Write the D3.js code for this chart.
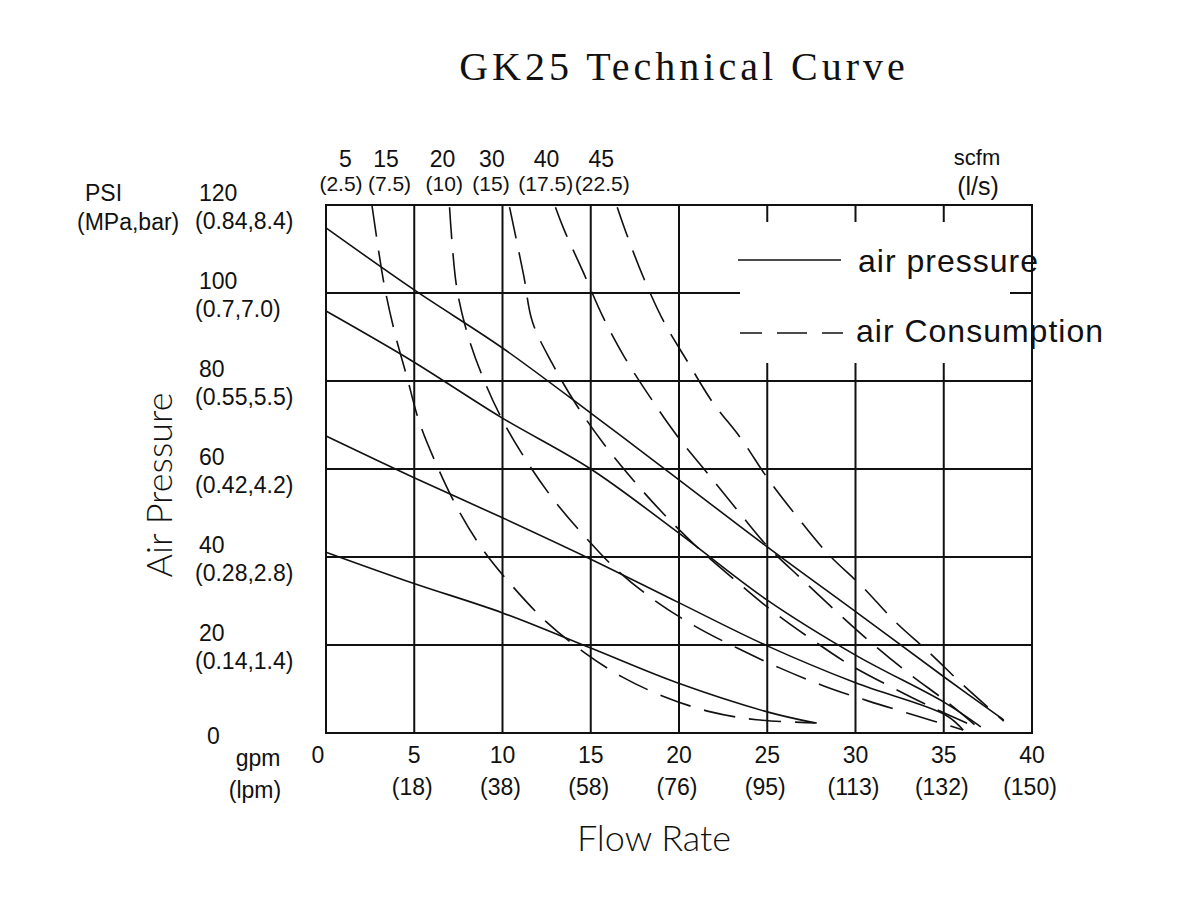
<!DOCTYPE html>
<html>
<head>
<meta charset="utf-8">
<script src="https://cdn.jsdelivr.net/npm/d3@7"></script>
<style>
  body { margin: 0; background: #fff; }
  text { font-family: "Liberation Sans", Arial, sans-serif; fill: #111; }
</style>
</head>
<body>
<div id="chart"></div>
<script>
// axis ticks
const gpmTicks = [0, 5, 10, 15, 20, 25, 30, 35, 40];
const lpmLabels = ["", "(18)", "(38)", "(58)", "(76)", "(95)", "(113)", "(132)", "(150)"];
const psiTicks = [0, 20, 40, 60, 80, 100, 120];
const mpaLabels = ["", "(0.14,1.4)", "(0.28,2.8)", "(0.42,4.2)", "(0.55,5.5)", "(0.7,7.0)", "(0.84,8.4)"];

// air consumption labels along the top (scfm / l/s), placed at these gpm values
const scfmLabels = ["5", "15", "20", "30", "40", "45"];
const scfmLabelGpm = [1.1, 3.4, 6.6, 9.4, 12.5, 15.6];
const lsLabels = ["(2.5)", "(7.5)", "(10)", "(15)", "(17.5)", "(22.5)"];
const lsLabelGpm = [0.85, 3.6, 6.7, 9.35, 12.45, 15.65];

// air pressure curves: [gpm, psi]
const pressure1 = [[0, 114.8], [5, 100.7], [10, 87.5], [15, 72.7], [18.9, 60.9], [25, 42.3], [30.1, 27.3], [35.1, 12.5], [38.4, 3.0]];
const pressure2 = [[0, 95.9], [4.9, 84.5], [9.9, 71.8], [15, 60], [19.9, 45.7], [25, 30.2], [30, 17.7], [35.1, 6.8], [37.1, 1.4]];
const pressure3 = [[0, 67.5], [4.9, 58.2], [10, 48.9], [15, 39.5], [19.9, 29.8], [25, 19.8], [30, 11.4], [35.1, 4.1], [36.1, 0.7]];
const pressure4 = [[0, 41.1], [4.9, 34.1], [10, 27.3], [15, 19.3], [19.9, 11.4], [25, 4.8], [27.7, 2.3]];

// air consumption curves: [gpm, psi]
const consumption1 = [[2.6, 120], [3.3, 101.8], [3.9, 90.9], [4.6, 80.7], [5.3, 70.5], [6.35, 60.2], [7.5, 50.7], [8.9, 41.6], [10.6, 33.2], [12.5, 25.2], [14.6, 18.4], [16.8, 12.7], [19.2, 8.2], [21.8, 4.8], [24.4, 3.0], [27.8, 2.3]];
const consumption2 = [[7.0, 119.5], [7.4, 101.4], [8.0, 90.9], [8.9, 80.7], [10.0, 71.1], [11.4, 61.6], [12.9, 53], [14.7, 44.5], [16.5, 37], [18.6, 30.2], [20.9, 24.3], [23.3, 19.3], [25.7, 14.8], [28.2, 10.7], [30.7, 7.3], [33.3, 4.1], [36.1, 0.7]];
const consumption3 = [[10.4, 119.5], [11.2, 104], [11.7, 93.4], [12.8, 84.1], [14.2, 74.5], [15.7, 65.9], [17.4, 57.5], [19.2, 49.5], [21.2, 41.6], [23.1, 35], [25.2, 28], [27.4, 21.6], [29.6, 15.7], [32.0, 10.5], [34.4, 5.7], [36.8, 1.4]];
const consumption4 = [[13.0, 119.5], [13.5, 114.3], [14.6, 104.5], [15.7, 94.5], [16.9, 85.5], [18.4, 76.1], [19.9, 67.5], [21.6, 59.1], [23.3, 50.7], [25.0, 42.5], [27.0, 34.8], [29.0, 27.3], [30.9, 20.5], [33.0, 13.6], [35.2, 7.0], [36.9, 1.4]];
const consumption5 = [[16.5, 119.5], [17.05, 113.2], [18.0, 103.4], [19.15, 93.4], [20.5, 84.3], [21.9, 75.2], [23.5, 67.0], [25.0, 58.0], [26.7, 49.1], [28.4, 40.9], [30.4, 33.2], [32.2, 25.5], [34.2, 18.2], [36.1, 10.9], [38.4, 2.7]];

const pressureCurves = [pressure1, pressure2, pressure3, pressure4];
const consumptionCurves = [consumption1, consumption2, consumption3, consumption4, consumption5];

const width = 1200, height = 900;
const x = d3.scaleLinear().domain([0, 40]).range([326, 1032]);
const y = d3.scaleLinear().domain([0, 120]).range([733, 205]);

const svg = d3.select("#chart").append("svg")
  .attr("width", width)
  .attr("height", height);

// title
svg.append("text")
  .attr("x", 684).attr("y", 80)
  .attr("text-anchor", "middle")
  .style("font-family", "'Liberation Serif', 'DejaVu Serif', serif")
  .style("font-size", "40px")
  .style("letter-spacing", "4px")
  .text("GK25 Technical Curve");

// grid
const grid = svg.append("g").attr("stroke", "#111").attr("stroke-width", 2);
grid.selectAll(".vline")
  .data(gpmTicks)
  .enter().append("line")
  .attr("x1", d => x(d)).attr("x2", d => x(d))
  .attr("y1", y(120)).attr("y2", y(0));
grid.selectAll(".hline")
  .data(psiTicks)
  .enter().append("line")
  .attr("x1", x(0)).attr("x2", x(40))
  .attr("y1", d => y(d)).attr("y2", d => y(d));

// legend area blanks out the grid
svg.append("rect")
  .attr("x", 740).attr("y", 222)
  .attr("width", 270).attr("height", 141)
  .attr("fill", "#fff");

// curves
const line = d3.line()
  .x(d => x(d[0]))
  .y(d => y(d[1]))
  .curve(d3.curveCatmullRom.alpha(0.5));

svg.selectAll(".pressure")
  .data(pressureCurves)
  .enter().append("path")
  .attr("class", "pressure")
  .attr("d", line)
  .attr("fill", "none")
  .attr("stroke", "#111")
  .attr("stroke-width", 1.6);

svg.selectAll(".consumption")
  .data(consumptionCurves)
  .enter().append("path")
  .attr("class", "consumption")
  .attr("d", line)
  .attr("fill", "none")
  .attr("stroke", "#111")
  .attr("stroke-width", 1.6)
  .attr("stroke-dasharray", "32,14");

// border on top
svg.append("rect")
  .attr("x", x(0)).attr("y", y(120))
  .attr("width", x(40) - x(0)).attr("height", y(0) - y(120))
  .attr("fill", "none").attr("stroke", "#111").attr("stroke-width", 2);

// legend
svg.append("line")
  .attr("x1", 738).attr("x2", 841).attr("y1", 260).attr("y2", 260)
  .attr("stroke", "#111").attr("stroke-width", 1.6);
svg.append("line")
  .attr("x1", 740).attr("x2", 843).attr("y1", 333).attr("y2", 333)
  .attr("stroke", "#111").attr("stroke-width", 1.6)
  .attr("stroke-dasharray", "30,15").attr("stroke-dashoffset", 8);
svg.append("text").attr("x", 858).attr("y", 272)
  .style("font-size", "32px").style("letter-spacing", "1px").text("air  pressure");
svg.append("text").attr("x", 856).attr("y", 342)
  .style("font-size", "32px").style("letter-spacing", "1px").text("air  Consumption");

// left tick labels
const leftLabels = svg.append("g").style("font-size", "23px");
leftLabels.selectAll(".psi")
  .data(psiTicks)
  .enter().append("text")
  .attr("x", d => d === 0 ? 207 : 199)
  .attr("y", d => d === 0 ? y(d) + 11 : y(d) - 4)
  .text(d => d);
leftLabels.selectAll(".mpa")
  .data(psiTicks.filter(d => d > 0))
  .enter().append("text")
  .attr("x", 195)
  .attr("y", d => y(d) + 24)
  .text((d, i) => mpaLabels[i + 1]);
leftLabels.append("text").attr("x", 85).attr("y", 201).text("PSI");
leftLabels.append("text").attr("x", 77).attr("y", 230).text("(MPa,bar)");

// bottom tick labels
const bottomLabels = svg.append("g").style("font-size", "23px").attr("text-anchor", "middle");
bottomLabels.selectAll(".gpm")
  .data(gpmTicks)
  .enter().append("text")
  .attr("x", d => d === 0 ? x(d) - 8 : x(d))
  .attr("y", 763)
  .text(d => d);
bottomLabels.selectAll(".lpm")
  .data(gpmTicks.filter(d => d > 0))
  .enter().append("text")
  .attr("x", d => x(d) - 2)
  .attr("y", 795)
  .text((d, i) => lpmLabels[i + 1]);
bottomLabels.append("text").attr("x", 258).attr("y", 766).text("gpm");
bottomLabels.append("text").attr("x", 255).attr("y", 798).text("(lpm)");

// top scfm labels
const topLabels = svg.append("g").attr("text-anchor", "middle");
topLabels.selectAll(".scfm")
  .data(scfmLabels)
  .enter().append("text")
  .attr("x", (d, i) => x(scfmLabelGpm[i]))
  .attr("y", 167)
  .style("font-size", "23px")
  .text(d => d);
topLabels.selectAll(".ls")
  .data(lsLabels)
  .enter().append("text")
  .attr("x", (d, i) => x(lsLabelGpm[i]))
  .attr("y", 191)
  .style("font-size", "21px")
  .text(d => d);
topLabels.append("text").attr("x", 977).attr("y", 165).style("font-size", "22px").text("scfm");
topLabels.append("text").attr("x", 978).attr("y", 195).style("font-size", "25px").text("(l/s)");

// axis titles
svg.append("text")
  .attr("transform", "translate(172,485) rotate(-90)")
  .attr("text-anchor", "middle")
  .style("font-family", "Lato, 'Open Sans', sans-serif")
  .style("font-weight", 300)
  .style("font-size", "36px")
  .text("Air Pressure");
svg.append("text")
  .attr("x", 654).attr("y", 851)
  .attr("text-anchor", "middle")
  .style("font-family", "Lato, 'Open Sans', sans-serif")
  .style("font-weight", 300)
  .style("font-size", "36px")
  .text("Flow Rate");
</script>
</body>
</html>
